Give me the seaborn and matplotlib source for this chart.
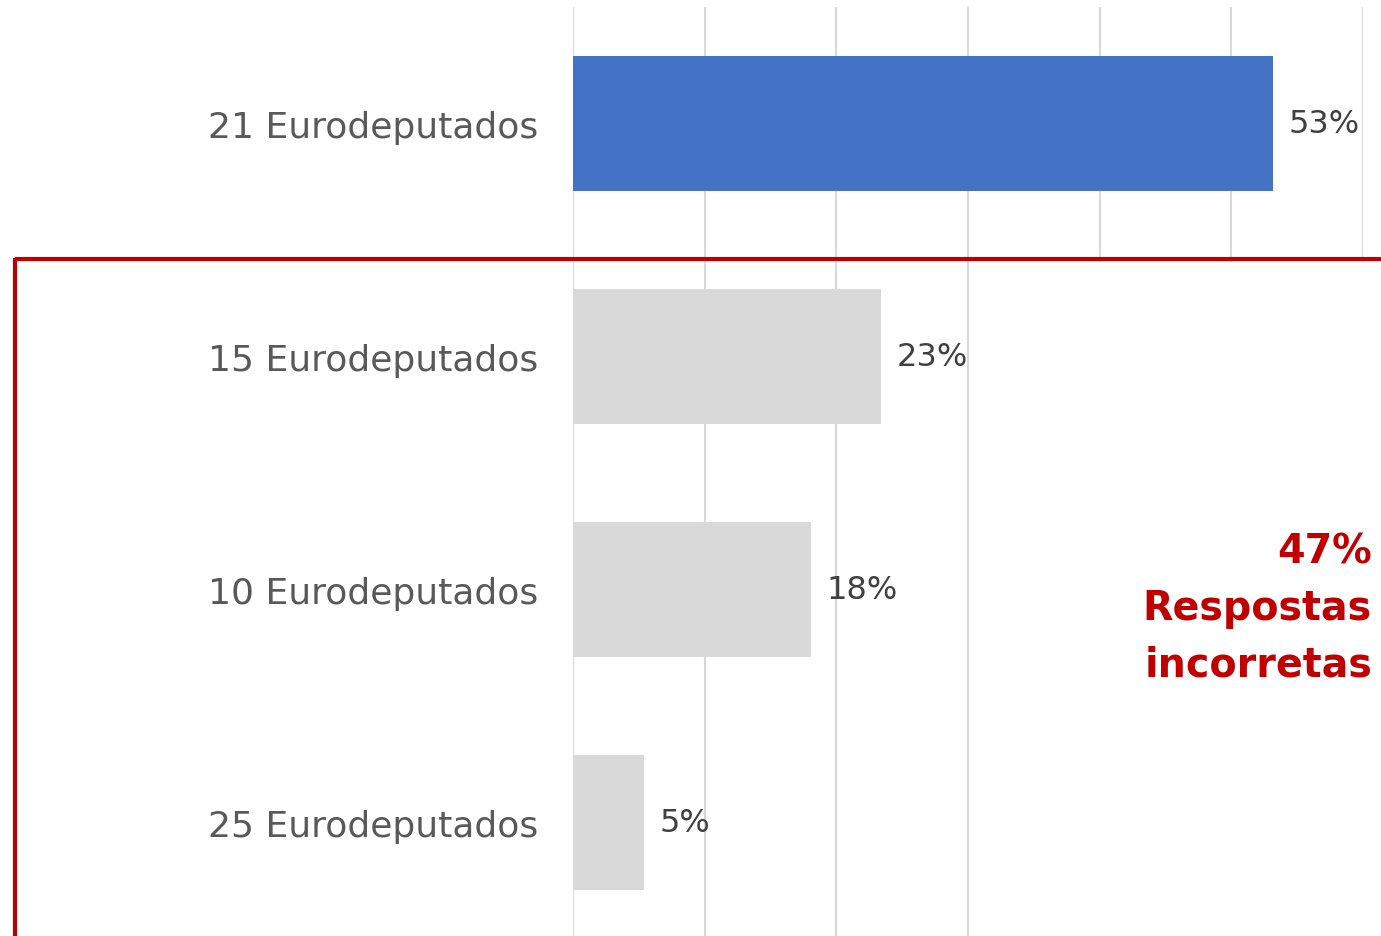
import matplotlib
matplotlib.use("Agg")
import matplotlib.pyplot as plt
import seaborn as sns
import pandas as pd
from matplotlib.lines import Line2D
from matplotlib.patches import Rectangle

categories = ["21 Eurodeputados", "15 Eurodeputados", "10 Eurodeputados", "25 Eurodeputados"]
values = [53.2, 23.4, 18.1, 5.4]
value_labels = ["53%", "23%", "18%", "5%"]
bar_colors = ["#4472C4", "#D9D9D9", "#D9D9D9", "#D9D9D9"]
xticks = [0, 10, 20, 30, 40, 50, 60]
annotation_lines = ["47%", "Respostas", "incorretas"]

sns.set_theme(style="whitegrid")
plt.rcParams["font.family"] = ["DejaVu Sans"]

df = pd.DataFrame({"cat": categories, "val": values})

fig = plt.figure(figsize=(13.81, 9.37), dpi=100)
ax = fig.add_axes([573 / 1381, -3 / 937, 790 / 1381, 932 / 937])

sns.barplot(data=df, x="val", y="cat", hue="cat", palette=bar_colors,
            orient="h", width=0.58, legend=False, ax=ax, saturation=1,
            linewidth=0)

ax.set_xlim(0, 60)
ax.set_ylim(3.5, -0.5)
ax.set_xticks(xticks)
ax.set_xticklabels([])
ax.set_xlabel("")
ax.set_ylabel("")
ax.grid(axis="x", color="#D9D9D9", linewidth=1.5)
ax.grid(axis="y", visible=False)
ax.set_axisbelow(True)
for s in ax.spines.values():
    s.set_visible(False)
ax.tick_params(axis="y", length=0, pad=25, labelsize=26, labelcolor="#595959")
ax.tick_params(axis="x", length=0)

for cont, lab in zip(ax.containers, value_labels):
    ax.bar_label(cont, labels=[lab], padding=11, fontsize=23, color="#404040")

# white cover over the right part below the red line
fig.add_artist(Rectangle((985 / 1381, 0), 1 - 985 / 1381, 1 - 263 / 937,
                         transform=fig.transFigure, facecolor="white",
                         edgecolor="none", zorder=1))

red = "#C00000"
ly = 1 - 260 / 937
lx = 15 / 1381
fig.add_artist(Line2D([lx, 1], [ly, ly], transform=fig.transFigure,
                      color=red, linewidth=3, solid_capstyle="butt", zorder=2))
fig.add_artist(Line2D([lx, lx], [ly + 1.5 / 937, 0], transform=fig.transFigure,
                      color=red, linewidth=3, solid_capstyle="butt", zorder=2))

baselines = [563, 620, 677]
for txt, b in zip(annotation_lines, baselines):
    fig.text(1372 / 1381, 1 - b / 937, txt, ha="right", va="baseline",
             fontsize=28.5, fontweight="bold", color=red, zorder=3)

fig.savefig("out.png", dpi=100)
